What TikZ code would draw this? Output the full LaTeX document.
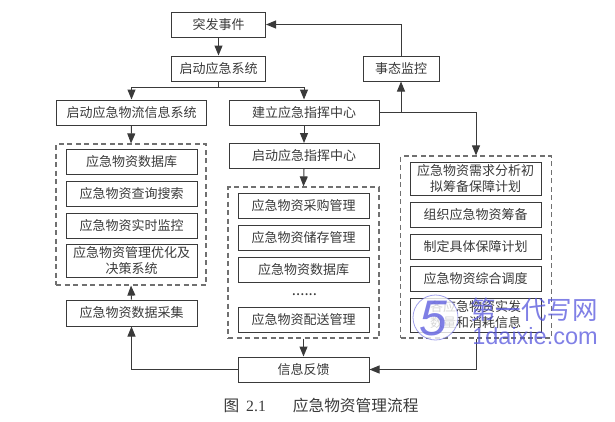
\documentclass[tikz,border=0pt]{standalone}
\usepackage{fontspec}
\setmainfont{Noto Sans CJK SC}
\newfontfamily\latinwm{Liberation Sans}
\newfontfamily\latincap{Liberation Serif}
\usetikzlibrary{arrows.meta}
\definecolor{ink}{HTML}{3A3A3A}
\definecolor{dashc}{HTML}{707070}
\definecolor{wm}{HTML}{5555DD}
\tikzset{
  bx/.style={draw=ink,line width=1pt,fill=white,inner sep=0pt,align=center,text=ink,
    font=\fontsize{13}{16}\selectfont,minimum height=25pt},
  wideb/.style={bx,minimum width=150pt},
  midb/.style={bx,minimum width=131pt},
  topb/.style={bx,minimum width=94pt},
  dashb/.style={draw=dashc,line width=1.2pt,dash pattern=on 5pt off 3.5pt,inner sep=0pt},
  conn/.style={draw=ink,line width=1pt,-{Triangle[length=10pt,width=8pt]}},
  plain/.style={draw=ink,line width=1pt},
  wmtext/.style={text=wm,text opacity=.75,inner sep=0pt},
}
\begin{document}
\begin{tikzpicture}[x=1pt,y=-1pt]
\useasboundingbox (0,0) rectangle (615,421);
% dashed groups
\node[dashb,minimum width=150pt,minimum height=141pt] (gl) at (131,214.5) {};
\node[dashb,minimum width=151pt,minimum height=151pt] (gm) at (303.5,262.5) {};
\node[dashb,minimum width=151pt,minimum height=182pt] (gr) at (476,247) {};
% main flow
\node[topb] (evt) at (218.5,24.5) {突发事件};
\node[topb] (sys) at (218.5,68.5) {启动应急系统};
\node[wideb] (info) at (131.5,112.5) {启动应急物流信息系统};
\node[wideb] (cmd) at (304,112.5) {建立应急指挥中心};
\node[bx,minimum width=76pt] (mon) at (401,68.5) {事态监控};
\node[wideb] (cmd2) at (304,156) {启动应急指挥中心};
% left group
\node[midb] (l1) at (131.5,162) {应急物资数据库};
\node[midb] (l2) at (131.5,194) {应急物资查询搜索};
\node[midb] (l3) at (131.5,225.5) {应急物资实时监控};
\node[midb,minimum height=33pt] (l4) at (131.5,261) {应急物资管理优化及\\决策系统};
\node[midb,minimum height=26pt] (col) at (131.5,313) {应急物资数据采集};
% middle group
\node[midb] (m1) at (303.5,206) {应急物资采购管理};
\node[midb] (m2) at (303.5,238) {应急物资储存管理};
\node[midb] (m3) at (303.5,269.5) {应急物资数据库};
\node[anchor=base,inner sep=0pt,text=ink,font=\fontsize{15}{16}\selectfont] (dots) at (304.5,295) {......};
\node[midb] (m4) at (303.5,319.5) {应急物资配送管理};
\node[midb] (fb) at (303.5,369.5) {信息反馈};
% right group
\node[midb,minimum height=33pt] (r1) at (475.5,179) {应急物资需求分析初\\拟筹备保障计划};
\node[midb] (r2) at (475.5,214.5) {组织应急物资筹备};
\node[midb] (r3) at (475.5,247) {制定具体保障计划};
\node[midb] (r4) at (475.5,278.5) {应急物资综合调度};
\node[midb,minimum height=34pt] (r5) at (475.5,315) {各应急物资实发\\数量和消耗信息};
% connectors
\draw[conn] (evt) -- (sys);
\coordinate (split) at (218.5,87);
\draw[plain] (sys.south) -- (split);
\draw[conn] (split) -| (info.north);
\draw[conn] (split) -| (cmd.north);
\draw[conn] (info.south) -- (gl.north);
\draw[conn] (cmd.south) -- (cmd2.north);
\draw[conn] (cmd2.south) -- (gm.north);
\coordinate (jn) at (mon.south |- cmd.east);
\draw[plain] (cmd.east) -- (jn);
\draw[conn] (jn) -- (mon.south);
\draw[conn] (jn) -| (gr.north);
\draw[conn] (mon.north) |- (evt.east);
\draw[conn] (gm.south) -- (fb.north);
\draw[conn] (gr.south) |- (fb.east);
\draw[conn] (fb.west) -| (col.south);
\draw[conn] (col.north) -- (gl.south);
% caption
\node[text=ink,inner sep=0pt,font=\fontsize{15.7}{18}\selectfont] (cap) at (321,406) {图\hspace{7pt}{\latincap 2.1}\hspace{27pt}应急物资管理流程};
% watermark
\fill[white,opacity=.8] (435.5,317.5) circle (22.5);
\draw[wm,opacity=.55,line width=.8pt] (435.5,317.5) circle (22.5);
\node[wmtext,font=\latinwm\fontsize{50}{50}\selectfont\itshape] (wm5) at (433,319) {5};
\node[wmtext,font=\fontsize{25.5}{26}\selectfont] (wm1) at (534,310) {第一代写网};
\node[wmtext,font=\latinwm\fontsize{23.5}{24}\selectfont] (wm2) at (535,336) {1daixie.com};
\end{tikzpicture}
\end{document}
